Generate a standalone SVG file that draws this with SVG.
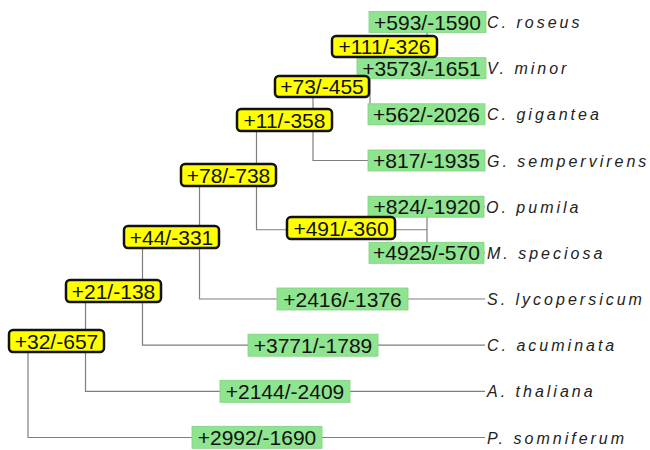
<svg xmlns="http://www.w3.org/2000/svg" width="650" height="450" viewBox="0 0 650 450">
  <style>
    .edge { fill: none; stroke: #7f7f7f; stroke-width: 1.2; }
    .leafbox { fill: #8fe48f; stroke: #7fd27f; stroke-width: 0.8; }
    .nodebox { fill: #ffff00; stroke: #111; stroke-width: 2.5; }
    .num { font-family: "Liberation Sans", Arial, sans-serif; font-size: 21px; fill: #111; text-anchor: middle; }
    .taxon { font-family: "Liberation Sans", Arial, sans-serif; font-size: 16px; font-style: italic; letter-spacing: 3px; fill: #222; }
  </style>
  <rect width="650" height="450" fill="#ffffff"/>

  <!-- tree branches -->
  <g id="connectors">
    <!-- root -->
    <path class="edge" d="M28 341.2 V437.5 H485 M28 341.2 H85.5"/>
    <!-- +32/-657 -->
    <path class="edge" d="M85.5 291.1 V391.3 H485 M85.5 291.1 H142.5"/>
    <!-- +21/-138 -->
    <path class="edge" d="M142.5 237 V345.2 H485 M142.5 237 H199.5"/>
    <!-- +44/-331 -->
    <path class="edge" d="M199.5 174.9 V299 H485 M199.5 174.9 H256.5"/>
    <!-- +78/-738 -->
    <path class="edge" d="M256.5 120.1 V229.75 H427 M256.5 120.1 H313"/>
    <!-- +11/-358 -->
    <path class="edge" d="M313 79.7 V160.5 H485 M313 79.7 H370"/>
    <!-- +73/-455 -->
    <path class="edge" d="M370 45.1 V114.3 H485 M370 45.1 H427"/>
    <!-- +111/-326 -->
    <path class="edge" d="M427 22 V68.2 H485 M427 22 H485"/>
    <!-- +491/-360 -->
    <path class="edge" d="M427 206.7 V252.8 H485 M427 206.7 H485"/>
  </g>

  <!-- leaves -->
  <g id="leaf-c-roseus">
    <rect class="leafbox" x="369" y="11.5" width="117" height="21"/>
    <text class="num" x="427.5" y="29.5">+593/-1590</text>
    <text class="taxon" x="487" y="28">C. roseus</text>
  </g>
  <g id="leaf-v-minor">
    <rect class="leafbox" x="357" y="57.7" width="129" height="21"/>
    <text class="num" x="421.5" y="75.7">+3573/-1651</text>
    <text class="taxon" x="487" y="74.2">V. minor</text>
  </g>
  <g id="leaf-c-gigantea">
    <rect class="leafbox" x="368" y="103.8" width="117" height="21"/>
    <text class="num" x="426.5" y="121.8">+562/-2026</text>
    <text class="taxon" x="487" y="120.3">C. gigantea</text>
  </g>
  <g id="leaf-g-sempervirens">
    <rect class="leafbox" x="368" y="150" width="117" height="21"/>
    <text class="num" x="426.5" y="168">+817/-1935</text>
    <text class="taxon" x="487" y="166.5">G. sempervirens</text>
  </g>
  <g id="leaf-o-pumila">
    <rect class="leafbox" x="368" y="196.2" width="116" height="21"/>
    <text class="num" x="427" y="214.2">+824/-1920</text>
    <text class="taxon" x="486" y="212.7">O. pumila</text>
  </g>
  <g id="leaf-m-speciosa">
    <rect class="leafbox" x="369" y="242.3" width="115" height="21"/>
    <text class="num" x="426.5" y="260.3">+4925/-570</text>
    <text class="taxon" x="487" y="258.8">M. speciosa</text>
  </g>
  <g id="leaf-s-lycopersicum">
    <rect class="leafbox" x="277" y="288" width="131" height="22"/>
    <text class="num" x="342.5" y="306.5">+2416/-1376</text>
    <text class="taxon" x="487" y="305">S. lycopersicum</text>
  </g>
  <g id="leaf-c-acuminata">
    <rect class="leafbox" x="248" y="334.2" width="130" height="22"/>
    <text class="num" x="313" y="352.7">+3771/-1789</text>
    <text class="taxon" x="487" y="351.2">C. acuminata</text>
  </g>
  <g id="leaf-a-thaliana">
    <rect class="leafbox" x="220" y="380.3" width="130" height="22"/>
    <text class="num" x="285" y="398.8">+2144/-2409</text>
    <text class="taxon" x="487" y="397.3">A. thaliana</text>
  </g>
  <g id="leaf-p-somniferum">
    <rect class="leafbox" x="192" y="426.3" width="130" height="22"/>
    <text class="num" x="257" y="444.8">+2992/-1690</text>
    <text class="taxon" x="487" y="443.5">P. somniferum</text>
  </g>

  <!-- internal nodes -->
  <g id="node-111-326">
    <rect class="nodebox" x="332" y="36" width="105" height="21" rx="4"/>
    <text class="num" x="384.5" y="54">+111/-326</text>
  </g>
  <g id="node-73-455">
    <rect class="nodebox" x="275" y="76" width="94" height="21" rx="4"/>
    <text class="num" x="322" y="94">+73/-455</text>
  </g>
  <g id="node-11-358">
    <rect class="nodebox" x="237" y="109" width="95" height="22" rx="4"/>
    <text class="num" x="284.5" y="127.5">+11/-358</text>
  </g>
  <g id="node-78-738">
    <rect class="nodebox" x="181" y="164" width="95" height="22" rx="4"/>
    <text class="num" x="228.5" y="182.5">+78/-738</text>
  </g>
  <g id="node-491-360">
    <rect class="nodebox" x="287" y="217" width="108" height="22" rx="4"/>
    <text class="num" x="341" y="235.5">+491/-360</text>
  </g>
  <g id="node-44-331">
    <rect class="nodebox" x="124" y="226" width="95" height="22" rx="4"/>
    <text class="num" x="171.5" y="244.5">+44/-331</text>
  </g>
  <g id="node-21-138">
    <rect class="nodebox" x="66" y="280" width="95" height="22" rx="4"/>
    <text class="num" x="113.5" y="298.5">+21/-138</text>
  </g>
  <g id="node-32-657">
    <rect class="nodebox" x="9" y="330" width="95" height="22" rx="4"/>
    <text class="num" x="56.5" y="348.5">+32/-657</text>
  </g>
</svg>
